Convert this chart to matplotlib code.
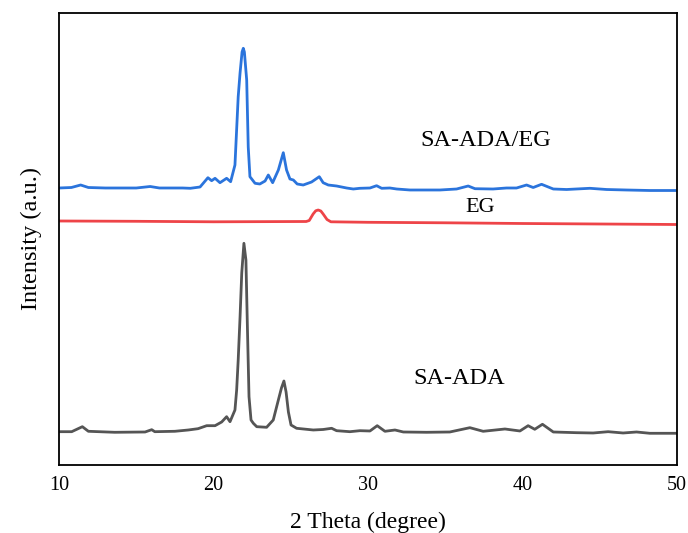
#!/usr/bin/env python3
import numpy as np
import matplotlib
matplotlib.use("Agg")
import matplotlib.pyplot as plt

# XRD patterns, 2-theta (degree) vs intensity (a.u.), each trace stacked by an offset
sa_ada_eg_2theta = [10.0, 10.8, 11.4, 11.9, 13.0, 15.0, 15.9, 16.5, 18.0, 18.5, 19.13,
                    19.64, 19.88, 20.1, 20.42, 20.85, 21.11, 21.39, 21.6, 21.72, 21.85,
                    21.93, 22.0, 22.15, 22.25, 22.36, 22.69, 23.0, 23.34, 23.55, 23.83,
                    24.2, 24.52, 24.73, 24.95, 25.17, 25.42, 25.81, 26.35, 26.85, 27.1,
                    27.43, 27.97, 28.62, 29.05, 29.48, 30.13, 30.56, 30.89, 31.42, 31.86,
                    32.72, 33.8, 34.66, 35.74, 36.49, 36.93, 38.1, 38.97, 39.62, 40.27,
                    40.7, 41.24, 42.0, 42.86, 44.37, 45.45, 46.74, 48.25, 50.0]
sa_ada_eg_int = [37, 37.5, 40, 37.5, 37, 37, 38.5, 37, 37, 36.7, 38,
                 47.3, 44.3, 46.7, 42.3, 46.7, 43.3, 60, 128.3, 152, 173,
                 176.7, 173, 145, 78, 48.3, 41.7, 41, 44, 50, 42.3,
                 55, 72.3, 55, 46, 45, 41, 40, 43, 48.3, 42.3,
                 40, 39, 37, 36, 36.7, 37, 39.3, 36.7, 37, 36,
                 35, 35, 35, 36, 39, 36.3, 36, 37, 37, 40,
                 37.5, 40.7, 36, 35.5, 36.7, 35.5, 35, 34.5, 34.5]

eg_2theta = [10.0, 15.0, 20.0, 26.0, 26.2, 26.45, 26.62, 26.78, 26.95, 27.1, 27.35,
             27.6, 30.0, 35.0, 40.0, 45.0, 50.0]
eg_int = [44, 43.7, 43.2, 43.5, 44.5, 51, 54.2, 55, 54, 51, 45.5,
          43.2, 42.7, 42.2, 41.5, 41, 40.5]

sa_ada_2theta = [10.0, 10.82, 11.51, 11.9, 13.6, 15.57, 16.0, 16.2, 17.5, 18.37, 19.0,
                 19.56, 20.1, 20.53, 20.85, 21.07, 21.39, 21.5, 21.6, 21.72, 21.83,
                 21.97, 22.1, 22.2, 22.3, 22.43, 22.58, 22.8, 23.44, 23.87, 24.2,
                 24.4, 24.56, 24.7, 24.85, 25.02, 25.38, 26.46, 27.1, 27.65, 27.97,
                 28.83, 29.48, 30.13, 30.6, 31.1, 31.75, 32.29, 33.8, 35.3, 36.6,
                 37.46, 38.87, 39.84, 40.37, 40.8, 41.3, 42.0, 43.5, 44.58, 45.55,
                 46.52, 47.39, 48.25, 50.0]
sa_ada_int = [33.3, 33.3, 38.3, 33.7, 32.7, 33, 35.3, 33.3, 33.7, 35, 36.3,
              39.3, 39.3, 43, 48.3, 43.3, 55, 75, 105, 148, 192,
              221.7, 205, 135, 68.3, 45, 41.7, 38.3, 37.7, 45, 65,
              77, 84, 73, 53, 40, 36.7, 35, 35.5, 36.7, 34.3,
              33.3, 34.3, 34, 39.3, 33.7, 35, 33, 32.7, 33, 37.3,
              33.7, 36, 34, 39.3, 35.7, 40.7, 33, 32.3, 32, 33.3,
              32, 33, 31.7, 31.7]

labels = ["SA-ADA/EG", "EG", "SA-ADA"]
offsets = [240, 200, 0]
colors = ["#2b74dc", "#ee4448", "#555555"]
label_pos = [(37.6, 325), (37.25, 257), (35.9, 86)]
label_size = [17.5, 16, 17.5]

plt.rcParams['font.family'] = ['Liberation Serif', 'DejaVu Serif']

fig = plt.figure(figsize=(6.88, 5.33), dpi=100, facecolor='w')
ax = fig.add_axes([0.0858, 0.1276, 0.898, 0.848])

series = [(sa_ada_eg_2theta, sa_ada_eg_int), (eg_2theta, eg_int), (sa_ada_2theta, sa_ada_int)]
for (x, y), off, c, lab, pos, fs in zip(series, offsets, colors, labels, label_pos, label_size):
    ax.plot(x, np.array(y) + off, color=c, lw=2.0, solid_joinstyle='round')
    ax.text(pos[0], pos[1], lab, fontsize=fs, ha='center', va='center')

ax.set_xlim(10, 50)
ax.set_ylim(0, 452)
ax.set_xticks([10, 20, 30, 40, 50])
ax.set_yticks([])
ax.tick_params(axis='x', length=0, pad=8, labelsize=14.5)
for s in ax.spines.values():
    s.set_linewidth(1.3)
ax.set_xlabel("2 Theta (degree)", fontsize=17, labelpad=12)
ax.set_ylabel("Intensity (a.u.)", fontsize=17.5, labelpad=12)

fig.savefig("out.png", dpi=100)
